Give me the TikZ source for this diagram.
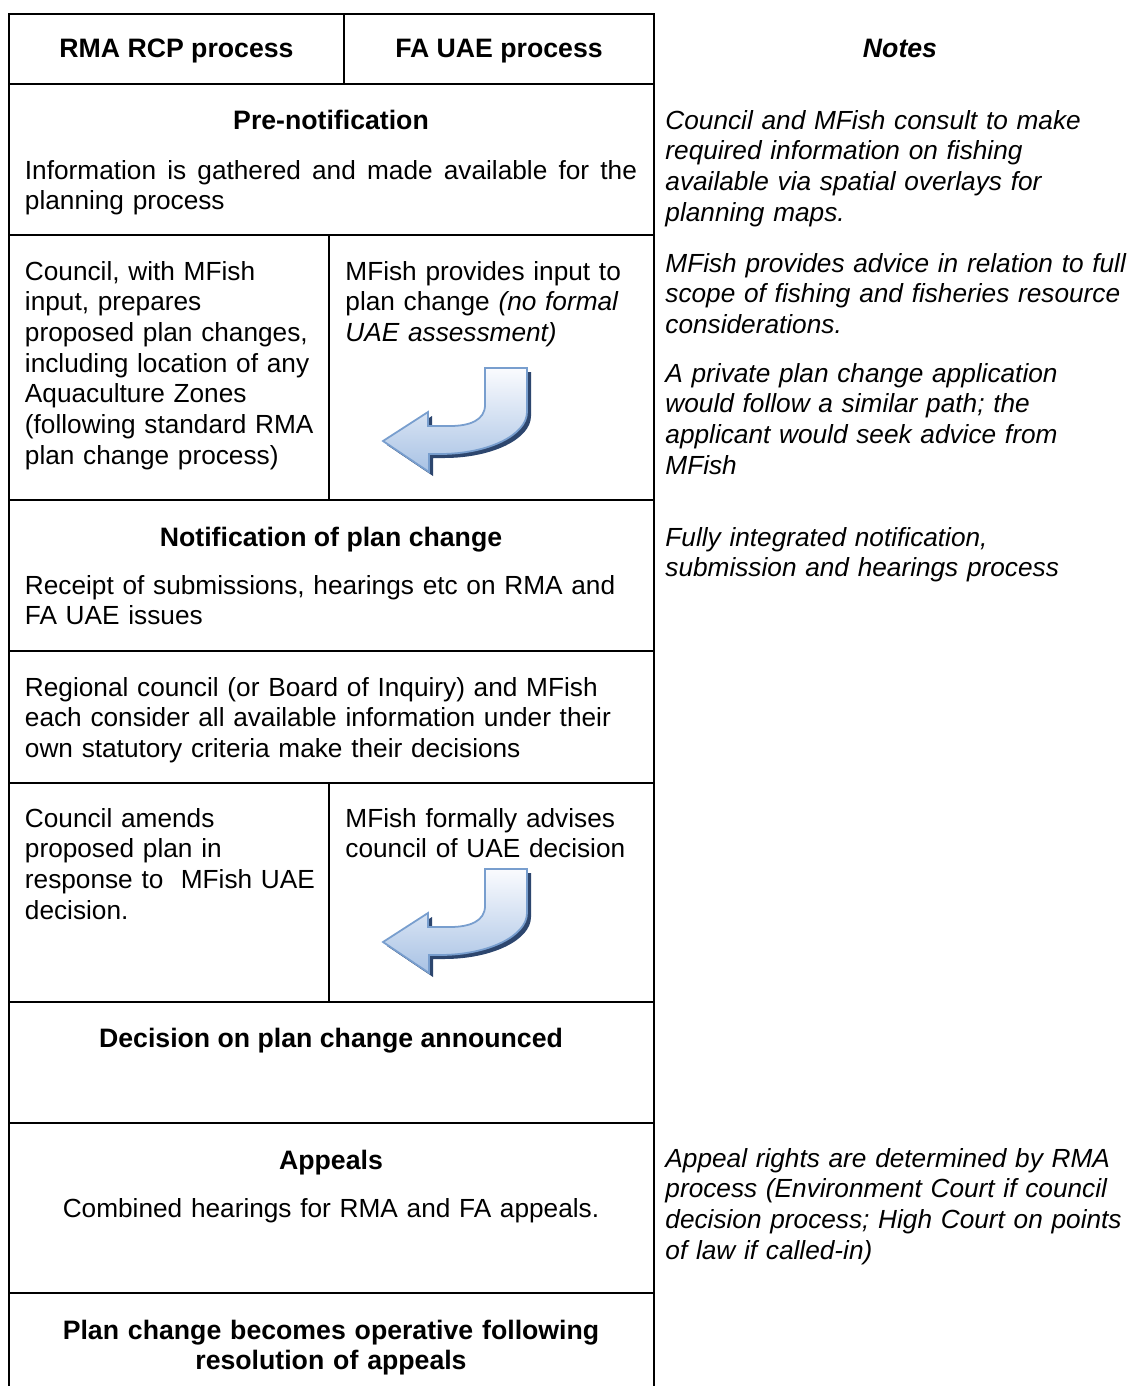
\documentclass[tikz,border=0pt]{standalone}
\usepackage{fontspec}
\setmainfont{Liberation Sans}
\definecolor{arrowtop}{RGB}{250,251,254}
\definecolor{arrowbot}{RGB}{168,194,228}
\definecolor{arrowedge}{RGB}{120,158,206}
\definecolor{arrowshadow}{RGB}{45,70,110}
\tikzset{
  pics/uturn/.style={code={
    \fill[arrowshadow, shift={(4,4)}] (527,368) -- (527,412) .. controls (527,435) and (488,454) .. (440,454) -- (429,454) -- (429,472) -- (383,441) -- (428,412) -- (428,426) -- (450,426) .. controls (470,426) and (485,420) .. (485,405) -- (485,368) -- cycle;
    \draw[arrowedge, line width=0.8pt, top color=arrowtop, bottom color=arrowbot] (527,368) -- (527,412) .. controls (527,435) and (488,454) .. (440,454) -- (429,454) -- (429,472) -- (383,441) -- (428,412) -- (428,426) -- (450,426) .. controls (470,426) and (485,420) .. (485,405) -- (485,368) -- cycle;
  }}
}
\newcommand\regfont{\fontsize{11.8}{13.8}\selectfont}
\newcommand\boldfont{\fontsize{12}{13.8}\selectfont\bfseries}
\begin{document}
\begin{tikzpicture}[x=0.45pt,y=-0.45pt,
  tline/.style={line width=0.9pt, line cap=rect},
  body/.style={inner sep=0pt, anchor=base west, align=left, text width=#1, font=\regfont},
  body/.default=140pt,
  note/.style={inner sep=0pt, anchor=base west, align=left, text width=215pt, font=\regfont\itshape},
  head/.style={inner sep=0pt, anchor=base, font=\boldfont},
  centr/.style={inner sep=0pt, anchor=base, text width=280pt, align=center, font=\regfont},
]
\useasboundingbox (0,0) rectangle (1130,1386);
% table frame
\draw[tline] (9,1386) -- (9,14) -- (654,14) -- (654,1386);
\foreach \yy in {84,235,500,651,783,1002,1123,1293}
  \draw[tline] (9,\yy) -- (654,\yy);
\draw[tline] (344,14) -- (344,84);
\draw[tline] (329,235) -- (329,500);
\draw[tline] (329,783) -- (329,1002);

% header
\node[head] (h1) at (176.5,57) {RMA RCP process};
\node[head] (h2) at (499,57) {FA UAE process};
\node[head, font=\boldfont\itshape] (h3) at (900,57) {Notes};

% rows
\node[head] (pre) at (331,129) {Pre-notification};
\node[body=280pt] (info) at (24.5,179) {\hbox to 275.4pt{Information\hfill is\hfill gathered\hfill and\hfill made\hfill available\hfill for\hfill the}\\planning process};
\node[body] (cl) at (24.5,280) {Council, with MFish\\input, prepares\\proposed plan changes,\\including location of any\\Aquaculture Zones\\(following standard RMA\\plan change process)};
\node[body] (cr) at (345,280) {MFish provides input to\\plan change \textit{(no formal}\\\textit{UAE assessment)}};
\node[head] (noti) at (331,546) {Notification of plan change};
\node[body=280pt] (rec) at (24.5,594) {Receipt of submissions, hearings etc on RMA and\\FA UAE issues};
\node[body=280pt] (reg) at (24.5,696) {Regional council (or Board of Inquiry) and MFish\\each consider all available information under their\\own statutory criteria make their decisions};
\node[body] (al) at (24.5,827) {Council amends\\proposed plan in\\response to\ \ MFish UAE\\decision.};
\node[body] (ar) at (345,827) {MFish formally advises\\council of UAE decision};
\node[head] (dec) at (331,1047) {Decision on plan change announced};
\node[head] (app) at (331,1169) {Appeals};
\node[centr] (comb) at (331,1217) {Combined hearings for RMA and FA appeals.};
\node[centr, font=\boldfont] (oper) at (331,1339) {Plan change becomes operative following\\resolution of appeals};

% notes
\node[note] (n1) at (665,129) {Council and MFish consult to make\\required information on fishing\\available via spatial overlays for\\planning maps.};
\node[note] (n2) at (665,272) {MFish provides advice in relation to full\\scope of fishing and fisheries resource\\considerations.};
\node[note] (n3) at (665,382) {A private plan change application\\would follow a similar path; the\\applicant would seek advice from\\MFish};
\node[note] (n4) at (665,546) {Fully integrated notification,\\submission and hearings process};
\node[note] (n5) at (665,1167) {Appeal rights are determined by RMA\\process (Environment Court if council\\decision process; High Court on points\\of law if called-in)};

% arrows
\pic at (0,0) {uturn};
\pic at (0,501) {uturn};
\end{tikzpicture}
\end{document}
